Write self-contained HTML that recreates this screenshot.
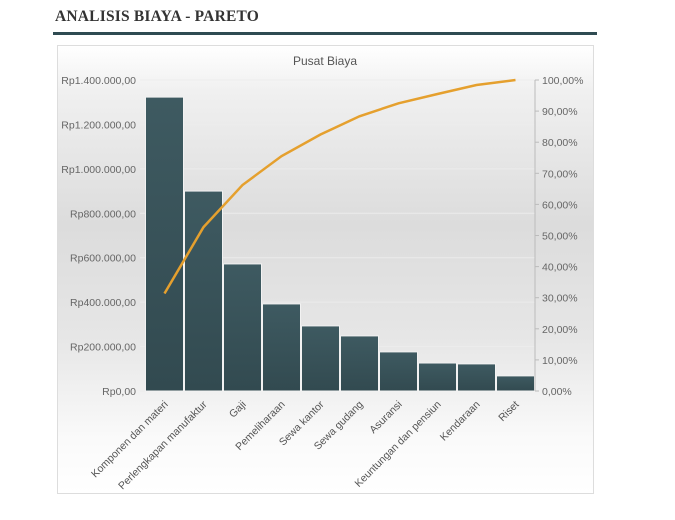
<!DOCTYPE html>
<html><head><meta charset="utf-8"><style>
body{margin:0;width:675px;height:520px;background:#fff;font-family:"Liberation Sans",sans-serif;overflow:hidden}
#hdr{position:absolute;left:55px;top:8px;font-family:"Liberation Serif",serif;font-weight:bold;font-size:15.5px;color:#333;letter-spacing:0.2px}
#rule{position:absolute;left:53px;top:32px;width:544px;height:3px;background:#2f4b52}
#box{position:absolute;left:57px;top:45px;width:535px;height:447px;border:1px solid #ddd;background:linear-gradient(#fff 0%,#f0f0f0 10%,#dcdcdc 40%,#e6e6e6 65%,#fafafa 88%,#fff 100%)}
svg{position:absolute;left:0;top:0}
</style></head><body>
<div id="hdr">ANALISIS BIAYA - PARETO</div>
<div id="rule"></div>
<div id="box"></div>
<svg id="chart" width="675" height="520">
<defs><linearGradient id="bg" x1="0" y1="0" x2="0" y2="1"><stop offset="0" stop-color="#3e5a61"/><stop offset="1" stop-color="#324a50"/></linearGradient></defs>
</svg>
<script>
const categories=["Komponen dan materi","Perlengkapan manufaktur","Gaji","Pemeliharaan","Sewa kantor","Sewa gudang","Asuransi","Keuntungan dan pensiun","Kendaraan","Riset"];
const values=[1323000,900000,572000,392000,293000,248000,176000,126000,122000,68000];
const leftTicks=[0,200000,400000,600000,800000,1000000,1200000,1400000];
const rightTicks=[0,10,20,30,40,50,60,70,80,90,100];
const svg=document.getElementById('chart');
const NS='http://www.w3.org/2000/svg';
const X0=145,X1=535,Y0=391,Y1=80;
const yL=v=>Y0-(v/1400000)*(Y0-Y1);
const yR=p=>Y0-(p/100)*(Y0-Y1);
const bw=(X1-X0)/categories.length;
const xB=i=>X0+i*bw;
function mk(t,a,txt){const e=document.createElementNS(NS,t);for(const k in a)e.setAttribute(k,a[k]);if(txt!=null)e.textContent=txt;svg.appendChild(e);return e;}
const fmt=v=>'Rp'+v.toLocaleString('de-DE')+',00';
let e=mk('text',{x:325,y:65,'text-anchor':'middle','font-size':12,fill:'#555'},'Pusat Biaya');


leftTicks.forEach(v=>{
  let g=mk('line',{x1:X0-5,x2:X1,y1:yL(v),y2:yL(v),stroke:'#ececec','stroke-width':1});
  
  
  let t=mk('text',{x:136,y:yL(v)+4,'text-anchor':'end','font-size':10.5,fill:'#666'},fmt(v));
  
  
});
values.forEach((v,i)=>{
  let r=mk('rect',{x:xB(i)+0.5,y:yL(v),width:bw-1,height:Y0-yL(v),fill:'url(#bg)',stroke:'#f2f2f2','stroke-width':1});
  
  
  const cx=xB(i)+bw/2;
  let t=mk('text',{x:0,y:0,'text-anchor':'end','font-size':10.5,fill:'#555',transform:`translate(${cx+4},${Y0+14}) rotate(-45)`},categories[i]);
  
  
});
let ax=mk('line',{x1:X1,x2:X1,y1:Y1,y2:Y0,stroke:'#bbb'});


rightTicks.forEach(p=>{
  let tk=mk('line',{x1:X1,x2:X1+4,y1:yR(p),y2:yR(p),stroke:'#bbb'});
  
  
  let t=mk('text',{x:X1+7,y:yR(p)+4,'font-size':10.5,fill:'#666'},p.toFixed(2).replace('.',',')+'%');
  
  
});
const total=values.reduce((a,b)=>a+b,0);
let c=0;const pts=values.map((v,i)=>{c+=v;return [xB(i)+bw/2,yR(c/total*100)];});
let pl=mk('polyline',{points:pts.map(p=>p.join(',')).join(' '),fill:'none',stroke:'#e5a02e','stroke-width':2.5});


</script>
</body></html>
